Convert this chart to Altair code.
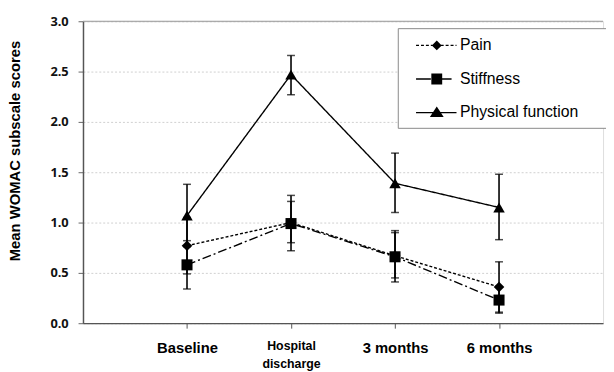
import altair as alt
import pandas as pd

categories = ["Baseline", "Hospital discharge", "3 months", "6 months"]
series_names = ["Pain", "Stiffness", "Physical function"]

pain = [0.77, 1.00, 0.67, 0.36]
pain_lo = [0.49, 0.80, 0.45, 0.11]
pain_hi = [1.05, 1.21, 0.90, 0.61]

stiff = [0.58, 0.99, 0.66, 0.23]
stiff_lo = [0.34, 0.72, 0.41, 0.10]
stiff_hi = [0.82, 1.27, 0.92, 0.36]

phys = [1.07, 2.47, 1.39, 1.15]
phys_lo = [0.76, 2.27, 1.10, 0.83]
phys_hi = [1.38, 2.66, 1.69, 1.48]

y_ticks = [0.0, 0.5, 1.0, 1.5, 2.0, 2.5, 3.0]
top_line = [3.0]
Y_TITLE = "Mean WOMAC subscale scores"

rows = []
for name, m, lo, hi in zip(series_names, [pain, stiff, phys],
                           [pain_lo, stiff_lo, phys_lo], [pain_hi, stiff_hi, phys_hi]):
    for c, a, b, d in zip(categories, m, lo, hi):
        rows.append({"series": name, "time": c, "mean": a, "lo": b, "hi": d})
df = pd.DataFrame(rows)

is_two = "datum.value == 'Hospital discharge'"
x_enc = alt.X(
    "time:N", sort=categories, title=None,
    scale=alt.Scale(type="point", padding=1, domain=categories),
    axis=alt.Axis(
        labelAngle=0, labelFont="Liberation Sans", labelFontWeight="bold",
        labelFontSize={"condition": {"test": is_two, "value": 12.5}, "value": 15},
        labelPadding={"condition": {"test": is_two, "value": 12}, "value": 13},
        labelExpr="datum.value == 'Hospital discharge' ? split(datum.label, ' ') : datum.label",
        labelLineHeight=18, labelBaseline="top", labelColor="black",
        domainColor="#555", domainWidth=1.2, tickColor="#555", tickSize=5, grid=False,
    ),
)

y_axis = alt.Axis(
    values=y_ticks, format=".1f", title=Y_TITLE,
    labelFont="Open Sans", labelFontWeight="bold", labelFontSize=13, labelColor="#111",
    labelPadding=10, tickSize=5, tickColor="#666", domainColor="#555", domainWidth=1.5,
    grid=True, gridColor="#cfcfcf", gridDash=[2, 2], gridWidth=1,
    titleFont="Liberation Sans", titleFontWeight="bold", titleFontSize=15, titleColor="black",
    titleX=-69, titleY=131, titleAlign="center", titleBaseline="middle", titleAngle=-90,
)
y_scale = alt.Scale(domain=[0, 3], nice=False)


def ych(field):
    return alt.Y(f"{field}:Q", scale=y_scale, axis=y_axis, title=Y_TITLE)


base = alt.Chart(df)

top_rule = alt.Chart(pd.DataFrame({"mean": top_line})).mark_rule(
    color="#999", strokeWidth=1).encode(y=ych("mean"))

lines = base.mark_line(color="black", strokeWidth=1.4).encode(
    x=x_enc, y=ych("mean"), detail="series:N",
    strokeDash=alt.StrokeDash("series:N", legend=None,
                              scale=alt.Scale(domain=series_names,
                                              range=[[3, 2], [9, 3, 2, 3], [1, 0]])),
)

err = base.mark_rule(color="black", strokeWidth=1.6).encode(
    x=x_enc, y=ych("lo"), y2="hi:Q")
cap_lo = base.mark_tick(color="black", thickness=1.5, size=8).encode(x=x_enc, y=ych("lo"))
cap_hi = base.mark_tick(color="black", thickness=1.5, size=8).encode(x=x_enc, y=ych("hi"))

points = base.mark_point(filled=True, color="black", opacity=1).encode(
    x=x_enc, y=ych("mean"),
    shape=alt.Shape("series:N", legend=None,
                    scale=alt.Scale(domain=series_names,
                                    range=["diamond", "square", "triangle-up"])),
    size=alt.Size("series:N", legend=None,
                  scale=alt.Scale(domain=series_names, range=[115, 135, 180])),
)

HW = 0.065  # half thickness of legend line pieces (in symbol units)


def seg(x0, x1):
    return f"M{x0:.2f},{-HW}H{x1:.2f}V{HW}H{x0:.2f}Z"


def dashes(x0, x1, d, g):
    parts = []
    x = x0
    while x < x1:
        e = min(x + d, x1)
        parts.append(seg(x, e))
        x = e + g
    return "".join(parts)


legend_paths = [
    dashes(-2.1, 2.0, 0.3, 0.2) + "M0,-0.5L0.5,0L0,0.5L-0.5,0Z",
    seg(-2.1, -0.6) + seg(0.55, 1.5) + "M-0.55,-0.55H0.55V0.55H-0.55Z",
    seg(-2.1, 2.0) + "M0,-0.6L0.7,0.45H-0.7Z",
]

legend_layer = base.transform_calculate(leg="datum.series").transform_filter("false").mark_point(
    filled=True, color="black").encode(
    shape=alt.Shape(
        "leg:N",
        scale=alt.Scale(domain=series_names, range=legend_paths),
        legend=alt.Legend(
            title=None, orient="none", legendX=319, legendY=7, padding=7,
            strokeColor="#888", fillColor="white",
            symbolSize=400, symbolFillColor="black", symbolStrokeColor="black",
            symbolStrokeWidth=0.3, symbolOpacity=1, symbolOffset=22,
            labelOffset=13, labelFont="Liberation Sans", labelFontSize=16,
            labelColor="black", rowPadding=15,
            labelExpr="datum.label + '\u2800\u2800'",
        ),
    )
)

chart = alt.layer(top_rule, lines, err, cap_lo, cap_hi, points, legend_layer).resolve_scale(
    shape="independent"
).properties(
    width=527, height=306,
    autosize=alt.AutoSizeParams(type="none"),
    padding={"left": 76, "top": 11, "right": 3, "bottom": 47},
).configure_view(stroke=None).configure(background="white")

chart.save("out.html", embed_options={"renderer": "svg", "actions": False})
